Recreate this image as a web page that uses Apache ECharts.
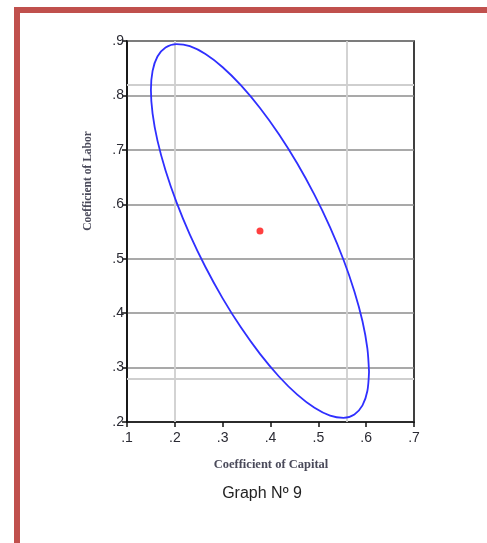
<!DOCTYPE html>
<html>
<head>
<meta charset="utf-8">
<script src="https://cdn.jsdelivr.net/npm/echarts@6/dist/echarts.min.js"></script>
<style>
html,body{margin:0;padding:0;background:#fff;}
#c{width:487px;height:543px;}
</style>
</head>
<body>
<div id="c"></div>
<script>
// Data
var xTicks = [0.1, 0.2, 0.3, 0.4, 0.5, 0.6, 0.7];
var yTicks = [0.2, 0.3, 0.4, 0.5, 0.6, 0.7, 0.8, 0.9];
var pointEstimate = [0.378, 0.551];           // coefficient of capital, coefficient of labor
var ciCapital = [0.200, 0.558];              // individual interval bounds (vertical lines)
var ciLabor = [0.283, 0.820];                // individual interval bounds (horizontal lines)
var ellipseX = [0.606,0.6025,0.5923,0.5754,0.5526,0.5246,0.492,0.456,0.4176,0.378,0.3384,0.300,0.264,0.2314,0.2034,0.1806,0.1637,0.1535,0.150,0.1535,0.1637,0.1806,0.2034,0.2314,0.264,0.300,0.3384,0.378,0.4176,0.456,0.492,0.5246,0.5526,0.5754,0.5923,0.6025,0.606];
var ellipseY = [0.2922,0.3353,0.3851,0.4399,0.4980,0.5576,0.6172,0.6748,0.7286,0.7769,0.8184,0.8518,0.8760,0.8904,0.8944,0.8881,0.8715,0.8451,0.8098,0.7667,0.7169,0.6621,0.6040,0.5444,0.4848,0.4272,0.3734,0.3251,0.2836,0.2502,0.2260,0.2116,0.2076,0.2139,0.2305,0.2569,0.2922];
var xLabel = 'Coefficient of Capital';
var yLabel = 'Coefficient of Labor';
var caption = 'Graph Nº 9';

var fmt = function (v) { return v.toFixed(1).replace(/^0/, ''); };
var ellipse = ellipseX.map(function (x, i) { return [x, ellipseY[i]]; });

var chart = echarts.init(document.getElementById('c'), null, {renderer: 'canvas'});
chart.setOption({
  animation: false,
  backgroundColor: '#fff',
  grid: {left: 127, right: 73, top: 41, bottom: 121, show: true, borderColor: '#111', borderWidth: 1.6, backgroundColor: 'transparent'},
  xAxis: {
    type: 'value', min: xTicks[0], max: xTicks[xTicks.length - 1], interval: 0.1,
    axisLine: {show: true, onZero: false, lineStyle: {color: '#111', width: 1.6}},
    axisTick: {show: true, length: 5, lineStyle: {color: '#111', width: 1.5}},
    axisLabel: {formatter: fmt, color: '#2a2a33', fontFamily: 'Liberation Sans, Arial', fontSize: 14, margin: 9},
    splitLine: {show: false}
  },
  yAxis: {
    type: 'value', min: yTicks[0], max: yTicks[yTicks.length - 1], interval: 0.1,
    axisLine: {show: true, onZero: false, lineStyle: {color: '#111', width: 1.6}},
    axisTick: {show: true, length: 5, lineStyle: {color: '#111', width: 1.5}},
    axisLabel: {formatter: fmt, color: '#2a2a33', fontFamily: 'Liberation Sans, Arial', fontSize: 14, margin: 3},
    splitLine: {show: true, lineStyle: {color: '#8c8c8c', width: 1.6}}
  },
  series: [
    {
      type: 'line', data: ellipse, smooth: 0.3, symbol: 'none',
      lineStyle: {color: '#2f2fff', width: 1.8}, z: 5,
      markLine: {
        silent: true, symbol: 'none', label: {show: false},
        lineStyle: {color: '#cfcfcf', width: 1.8, type: 'solid'},
        data: ciCapital.map(function (v) { return {xAxis: v}; }).concat(ciLabor.map(function (v) { return {yAxis: v}; }))
      }
    },
    {
      type: 'scatter', data: [pointEstimate], symbol: 'circle', symbolSize: 7,
      itemStyle: {color: '#ff1010'}, z: 6
    }
  ],
  graphic: [
    {type: 'rect', shape: {x: 14, y: 7, width: 473, height: 6}, style: {fill: '#c0504d'}},
    {type: 'rect', shape: {x: 14, y: 7, width: 6, height: 536}, style: {fill: '#c0504d'}},
    {type: 'text', x: 271, y: 465, style: {text: xLabel, font: 'bold 12.5px "Liberation Serif", "DejaVu Serif", serif', fill: '#4a4a5a', textAlign: 'center', textVerticalAlign: 'middle'}},
    {type: 'text', x: 88, y: 181, rotation: Math.PI / 2, style: {text: yLabel, font: 'bold 11.5px "Liberation Serif", "DejaVu Serif", serif', fill: '#4a4a5a', textAlign: 'center', textVerticalAlign: 'middle'}},
    {type: 'text', x: 262, y: 494, style: {text: caption, font: '16px "Liberation Sans", Arial, sans-serif', fill: '#222', textAlign: 'center', textVerticalAlign: 'middle'}}
  ]
});
</script>
</body>
</html>
